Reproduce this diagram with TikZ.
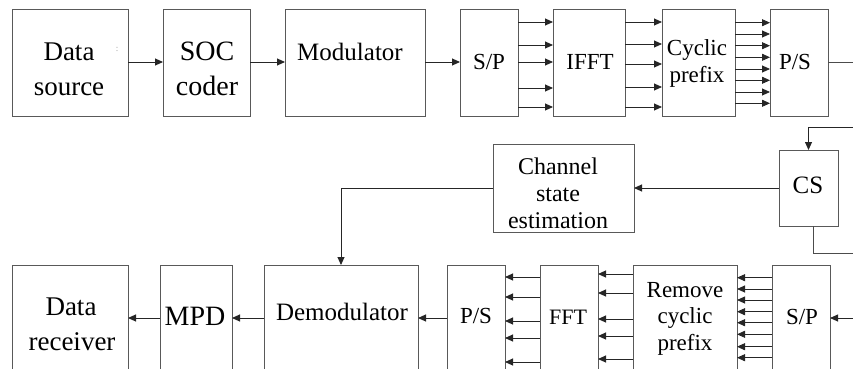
\documentclass[tikz,border=0pt]{standalone}
\usepackage{fontspec}
\setmainfont{Liberation Serif}
\usetikzlibrary{arrows.meta}
\begin{document}
\begin{tikzpicture}[x=1pt,y=-1pt,
  box/.style={draw=black!65,line width=1pt,inner sep=0pt,outer sep=0pt},
  arr/.style={draw=black!85,line width=0.9pt,-{Triangle[length=8pt,width=7pt]}},
  ln/.style={draw=black!70,line width=0.9pt},
  tA/.style={anchor=base,inner sep=0pt,font=\fontsize{27}{30}\selectfont},
  tB/.style={anchor=base,inner sep=0pt,font=\fontsize{25}{28}\selectfont},
  tC/.style={anchor=base,inner sep=0pt,font=\fontsize{23}{26}\selectfont}]
\useasboundingbox (0,0) rectangle (853,369);
% top row boxes
\node[box,minimum width=116pt,minimum height=106pt] (ds) at (70,63) {};
\node[box,minimum width=87pt,minimum height=106pt] (soc) at (206.5,63) {};
\node[box,minimum width=140pt,minimum height=106pt] (mod) at (355,63) {};
\node[box,minimum width=58pt,minimum height=106pt] (sp1) at (489,63) {};
\node[box,minimum width=72pt,minimum height=106pt] (ifft) at (589,63) {};
\node[box,minimum width=73pt,minimum height=106pt] (cp) at (698.5,63) {};
\node[box,minimum width=58pt,minimum height=106pt] (ps1) at (799,63) {};
% middle
\node[box,minimum width=59pt,minimum height=76pt] (cs) at (808.5,188) {};
\node[box,minimum width=141pt,minimum height=88pt] (cse) at (563.5,188) {};
% bottom row boxes
\node[box,minimum width=116pt,minimum height=106pt] (dr) at (70,318) {};
\node[box,minimum width=72pt,minimum height=106pt] (mpd) at (196,318) {};
\node[box,minimum width=154pt,minimum height=106pt] (dem) at (341,318) {};
\node[box,minimum width=58pt,minimum height=106pt] (ps2) at (476,318) {};
\node[box,minimum width=58pt,minimum height=106pt] (fft) at (569,318) {};
\node[box,minimum width=104pt,minimum height=106pt] (rcp) at (685,318) {};
\node[box,minimum width=58pt,minimum height=106pt] (sp2) at (801,318) {};
% texts
\node[tA] (dsa) at (69,60) {Data};
\node[tA] (dsb) at (69,95) {source};
\node[anchor=base,inner sep=0pt,text=black!40,font=\fontsize{9}{10}\selectfont] (dot) at (117,52) {:};
\node[tA,font=\fontsize{28}{30}\selectfont] (soca) at (207,60) {SOC};
\node[tA,font=\fontsize{28}{30}\selectfont] (socb) at (207,95) {coder};
\node[tB] (modt) at (350,60) {Modulator};
\node[tC] (sp1t) at (489,70) {S/P};
\node[tC] (ifftt) at (590,70) {IFFT};
\node[tC] (cpa) at (697,56) {Cyclic};
\node[tC] (cpb) at (697,82) {prefix};
\node[tC] (ps1t) at (795,70) {P/S};
\node[tB] (cst) at (808,193) {CS};
\node[tC,font=\fontsize{24}{26}\selectfont] (csea) at (558,174) {Channel};
\node[tC,font=\fontsize{24}{26}\selectfont] (cseb) at (558,201) {state};
\node[tC,font=\fontsize{24}{26}\selectfont] (csec) at (558,228) {estimation};
\node[tA] (dra) at (71,315) {Data};
\node[tA] (drb) at (72,350) {receiver};
\node[tA,font=\fontsize{28}{30}\selectfont] (mpdt) at (195,325) {MPD};
\node[tB] (demt) at (342,320) {Demodulator};
\node[tC] (ps2t) at (476,323) {P/S};
\node[tC,font=\fontsize{22}{26}\selectfont] (fftt) at (568,324) {FFT};
\node[tC] (rcpa) at (685,297) {Remove};
\node[tC] (rcpb) at (685,323) {cyclic};
\node[tC] (rcpc) at (685,350) {prefix};
\node[tC] (sp2t) at (802,324) {S/P};
% edge coordinates
\coordinate (e1) at (853,62);
\coordinate (e2) at (853,127);
\coordinate (e3) at (853,253);
\coordinate (e4) at (853,318);
% top connectors
\draw[arr] (ds.east |- 0,62) -- (soc.west |- 0,62);
\draw[arr] (soc.east |- 0,62) -- (mod.west |- 0,62);
\draw[arr] (mod.east |- 0,62) -- (sp1.west |- 0,62);
\foreach \y in {22,45,62,88,107}
  \draw[arr] (sp1.east |- 0,\y) -- (ifft.west |- 0,\y);
\foreach \y in {22,44,64,87,107}
  \draw[arr] (ifft.east |- 0,\y) -- (cp.west |- 0,\y);
\foreach \y in {22.7,34,45.7,57.3,69,80.3,92,103.3}
  \draw[arr] (cp.east |- 0,\y) -- (ps1.west |- 0,\y);
\draw[ln] (ps1.east |- e1) -- (e1);
% middle connectors
\draw[arr] (e2) -| (cs.north);
\draw[ln] (cs.south -| 813,0) |- (e3);
\draw[arr] (cs.west) -- (cse.east);
\draw[arr] (cse.west) -| (dem.north);
% bottom connectors
\draw[arr] (e4) -- (sp2.east);
\foreach \y in {277.7,289,300,311.7,322.7,334.3,346.7,357.7}
  \draw[arr] (sp2.west |- 0,\y) -- (rcp.east |- 0,\y);
\foreach \y in {274,293,319,336,359}
  \draw[arr] (rcp.west |- 0,\y) -- (fft.east |- 0,\y);
\foreach \y in {277,297,321,338,362}
  \draw[arr] (fft.west |- 0,\y) -- (ps2.east |- 0,\y);
\draw[arr] (ps2.west) -- (dem.east);
\draw[arr] (dem.west) -- (mpd.east);
\draw[arr] (mpd.west) -- (dr.east);
\end{tikzpicture}
\end{document}
